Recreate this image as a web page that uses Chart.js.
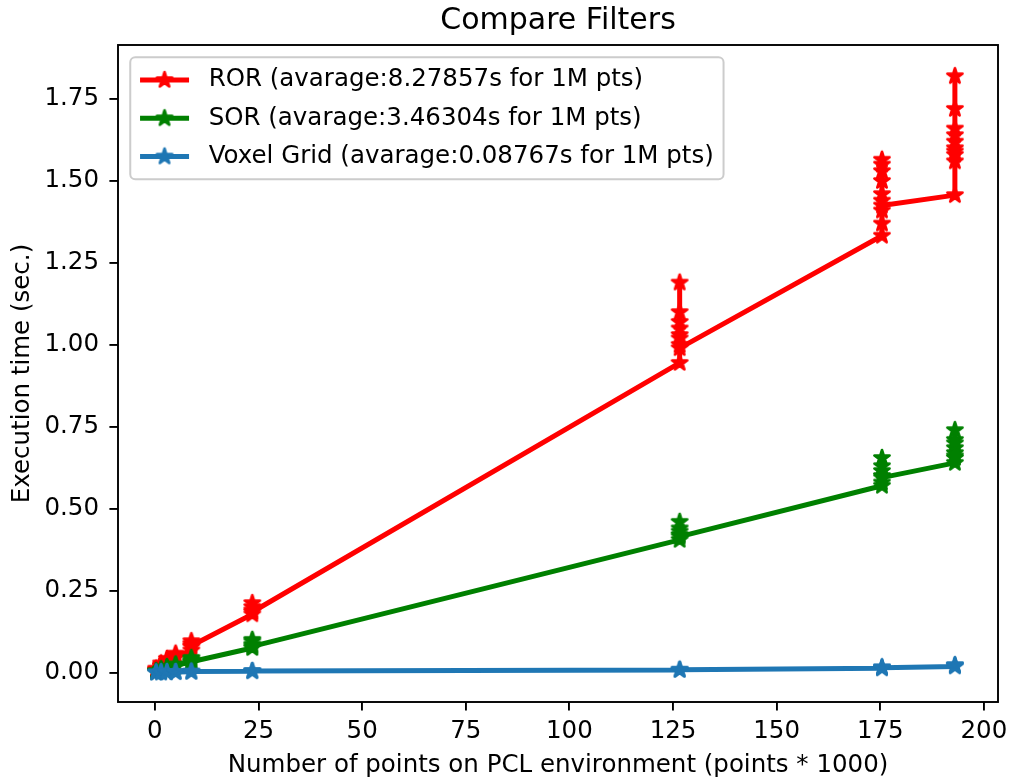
<!DOCTYPE html>
<html>
<head>
<meta charset="utf-8">
<script src="https://cdn.jsdelivr.net/npm/chart.js@4.4.1/dist/chart.umd.min.js"></script>
<style>
  html, body { margin: 0; padding: 0; background: #fff; }
  #wrap { width: 1010px; height: 780px; }
</style>
</head>
<body>
<div id="wrap"><canvas id="chart" width="1010" height="780"></canvas></div>
<script>
// point cloud sizes (thousands of points) and the repeated run times at each size
const sizes = [0.3, 1.5, 2.9, 5.0, 8.8, 23.5, 126.6, 175.4, 193.0];

const rorRuns = [
  [0.004, 0.006, 0.008, 0.012, 0.005],
  [0.018, 0.022, 0.028, 0.020],
  [0.030, 0.036, 0.042, 0.033],
  [0.045, 0.052, 0.058, 0.048],
  [0.068, 0.078, 0.088, 0.096, 0.082],
  [0.178, 0.190, 0.200, 0.212, 0.185],
  [0.945, 1.00, 1.03, 1.05, 1.07, 1.10, 1.19, 1.02, 0.99],
  [1.333, 1.37, 1.41, 1.44, 1.46, 1.50, 1.53, 1.55, 1.565, 1.425],
  [1.457, 1.56, 1.58, 1.60, 1.62, 1.64, 1.66, 1.72, 1.82, 1.59]
];

const sorRuns = [
  [0.002, 0.003, 0.004],
  [0.007, 0.009, 0.010],
  [0.012, 0.015, 0.017],
  [0.018, 0.022, 0.025],
  [0.030, 0.035, 0.040, 0.045, 0.033],
  [0.075, 0.085, 0.095, 0.100, 0.080],
  [0.405, 0.42, 0.43, 0.44, 0.46, 0.415],
  [0.57, 0.58, 0.60, 0.615, 0.63, 0.655, 0.595],
  [0.64, 0.655, 0.67, 0.685, 0.70, 0.71, 0.74, 0.66]
];

const voxelRuns = [
  [0.0003, 0.0004],
  [0.0008, 0.0010],
  [0.0012, 0.0015],
  [0.0015, 0.0020],
  [0.0025, 0.0030],
  [0.0040, 0.0050],
  [0.0080, 0.0090],
  [0.013, 0.016, 0.015],
  [0.019, 0.023, 0.021]
];

const seriesLabels = [
  'ROR (avarage:8.27857s for 1M pts)',
  'SOR (avarage:3.46304s for 1M pts)',
  'Voxel Grid (avarage:0.08767s for 1M pts)'
];
const seriesColors = ['#ff0000', '#008000', '#1f77b4'];

const xTicks = [0, 25, 50, 75, 100, 125, 150, 175, 200];
const yTicks = [0, 0.25, 0.5, 0.75, 1.0, 1.25, 1.5, 1.75];

const FONT = 'DejaVu Sans';
const FS = 24.5;
Chart.defaults.font.family = FONT;
Chart.defaults.color = '#000';

function toPoints(runs) {
  return runs.flatMap((vals, i) => vals.map(v => ({ x: sizes[i], y: v })));
}

// matplotlib-like '*' marker
function makeStar(color) {
  const c = document.createElement('canvas');
  c.width = 22; c.height = 22;
  const g = c.getContext('2d');
  g.beginPath();
  for (let i = 0; i < 10; i++) {
    const r = i % 2 ? 8 * 0.381966 : 8;
    const a = -Math.PI / 2 + i * Math.PI / 5;
    const px = 11 + r * Math.cos(a), py = 11 + r * Math.sin(a);
    if (i) g.lineTo(px, py); else g.moveTo(px, py);
  }
  g.closePath();
  g.fillStyle = color;
  g.fill();
  g.strokeStyle = color;
  g.lineWidth = 2.6;
  g.lineJoin = 'round';
  g.stroke();
  return c;
}
const stars = seriesColors.map(makeStar);

const allRuns = [rorRuns, sorRuns, voxelRuns];
const datasets = allRuns.map((runs, i) => ({
  label: seriesLabels[i],
  data: toPoints(runs),
  showLine: true,
  borderColor: seriesColors[i],
  backgroundColor: seriesColors[i],
  borderWidth: 5,
  borderJoinStyle: 'round',
  borderCapStyle: 'square',
  pointStyle: stars[i],
  pointRadius: 7,
  order: allRuns.length - i
}));

// axes frame (all four spines)
const framePlugin = {
  id: 'frame',
  afterDraw(chart) {
    const { ctx, chartArea: a } = chart;
    ctx.save();
    ctx.strokeStyle = '#000';
    ctx.lineWidth = 1.9;
    ctx.strokeRect(a.left, a.top, a.right - a.left, a.bottom - a.top);
    ctx.restore();
  }
};

// legend box in the upper left corner, like matplotlib
const legendPlugin = {
  id: 'mplLegend',
  afterDraw(chart) {
    const { ctx, chartArea: a } = chart;
    const pad = 0.4 * FS, handle = 2 * FS, gap = 0.8 * FS, rowH = 26, spacing = 0.5 * FS;
    ctx.save();
    ctx.font = FS + 'px "' + FONT + '"';
    const sets = chart.data.datasets;
    const textW = Math.max(...sets.map(d => ctx.measureText(d.label).width));
    const x0 = a.left + 0.5 * FS, y0 = a.top + 0.5 * FS;
    const w = pad * 2 + handle + gap + textW;
    const h = pad * 2 + rowH * sets.length + spacing * (sets.length - 1);
    ctx.beginPath();
    ctx.roundRect(x0, y0, w, h, 5);
    ctx.fillStyle = 'rgba(255,255,255,0.8)';
    ctx.fill();
    ctx.strokeStyle = '#cccccc';
    ctx.lineWidth = 2;
    ctx.stroke();
    sets.forEach((d, i) => {
      const cy = y0 + pad + rowH / 2 + i * (rowH + spacing);
      const hx = x0 + pad;
      ctx.beginPath();
      ctx.moveTo(hx, cy);
      ctx.lineTo(hx + handle, cy);
      ctx.strokeStyle = d.borderColor;
      ctx.lineWidth = d.borderWidth;
      ctx.stroke();
      ctx.drawImage(d.pointStyle, hx + handle / 2 - 11, cy - 11);
      ctx.fillStyle = '#000';
      ctx.textBaseline = 'middle';
      ctx.textAlign = 'left';
      ctx.fillText(d.label, hx + handle + gap, cy);
    });
    ctx.restore();
  }
};

new Chart(document.getElementById('chart'), {
  type: 'scatter',
  data: { datasets },
  options: {
    responsive: false,
    animation: false,
    events: [],
    layout: { padding: { left: 0, right: 10, top: 0, bottom: 0 } },
    plugins: {
      legend: { display: false },
      tooltip: { enabled: false },
      title: {
        display: true,
        text: 'Compare Filters',
        fullSize: false,
        color: '#000',
        font: { size: 30, weight: 'normal' },
        padding: { top: 3, bottom: 6 }
      }
    },
    scales: {
      x: {
        type: 'linear',
        min: -8.9,
        max: 203.4,
        afterBuildTicks: s => { s.ticks = xTicks.map(v => ({ value: v })); },
        afterFit: s => { s.height = 78; s.paddingLeft = 0; s.paddingRight = 0; },
        ticks: { font: { size: FS }, padding: 6.7, color: '#000', callback: v => String(v) },
        grid: { drawOnChartArea: false, tickLength: 8.6, color: '#000', lineWidth: 1.9 },
        border: { display: false },
        title: {
          display: true,
          text: 'Number of points on PCL environment (points * 1000)',
          color: '#000',
          font: { size: FS },
          padding: { top: 0, bottom: 0 }
        }
      },
      y: {
        type: 'linear',
        min: -0.0897,
        max: 1.915,
        afterBuildTicks: s => { s.ticks = yTicks.map(v => ({ value: v })); },
        afterFit: s => { s.width = 118; s.paddingTop = 0; s.paddingBottom = 0; },
        ticks: { font: { size: FS }, padding: 10.4, color: '#000', callback: v => v.toFixed(2) },
        grid: { drawOnChartArea: false, tickLength: 8.6, color: '#000', lineWidth: 1.9 },
        border: { display: false },
        title: {
          display: true,
          text: 'Execution time (sec.)',
          color: '#000',
          font: { size: FS },
          padding: { top: 8, bottom: 0 }
        }
      }
    }
  },
  plugins: [framePlugin, legendPlugin]
});
</script>
</body>
</html>
